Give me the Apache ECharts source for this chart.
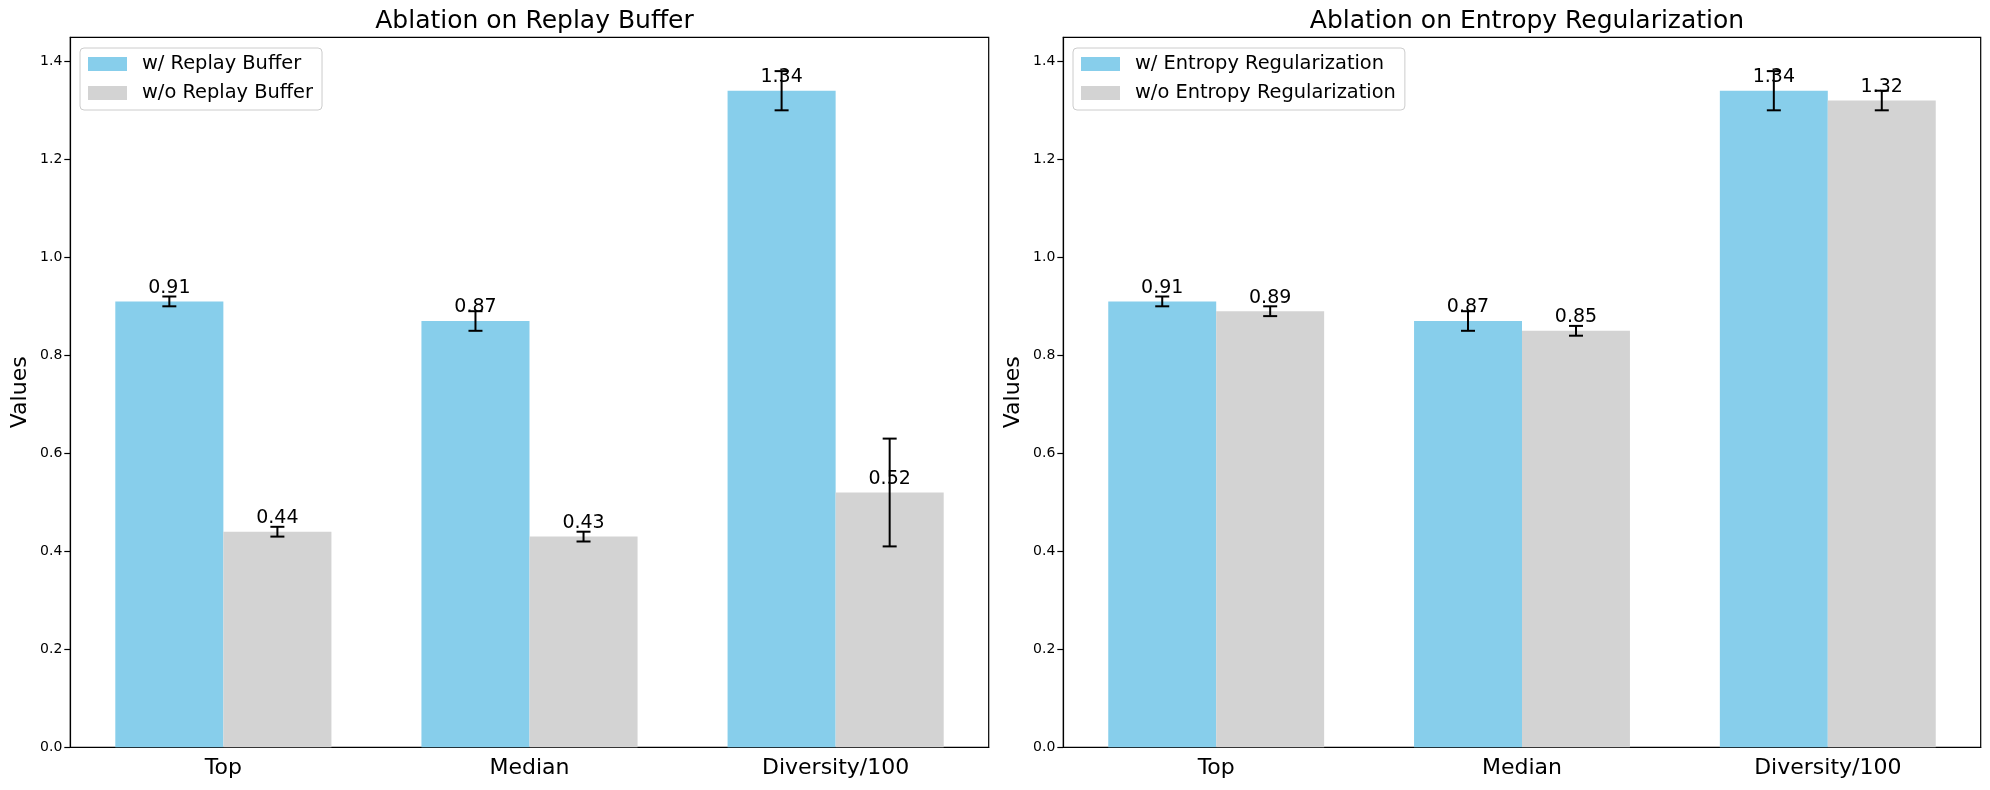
<!DOCTYPE html>
<html><head><meta charset="utf-8">
<script src="https://cdn.jsdelivr.net/npm/echarts@6/dist/echarts.min.js"></script>
<style>html,body{margin:0;padding:0;background:#fff}#c{width:1990px;height:790px}</style>
</head><body><div id="c"></div>
<script>
const categories = ['Top', 'Median', 'Diversity/100'];
const yTicks = [0, 0.2, 0.4, 0.6, 0.8, 1.0, 1.2, 1.4];
const replayWith = [0.91, 0.87, 1.34];
const replayWithErr = [0.01, 0.02, 0.04];
const replayWithout = [0.44, 0.43, 0.52];
const replayWithoutErr = [0.01, 0.01, 0.11];
const entropyWith = [0.91, 0.87, 1.34];
const entropyWithErr = [0.01, 0.02, 0.04];
const entropyWithout = [0.89, 0.85, 1.32];
const entropyWithoutErr = [0.01, 0.01, 0.02];

const FONT = 'DejaVu Sans';
const BLUE = '#87CEEB', GRAY = '#D3D3D3';
const BAR_FRAC = 0.353;

function errSeries(axisIdx, vals, errs, side) {
  return {
    type: 'custom', xAxisIndex: axisIdx, yAxisIndex: axisIdx, z: 5,
    data: vals.map((v, i) => [i, v, errs[i]]),
    renderItem: function (params, api) {
      const i = api.value(0), v = api.value(1), e = api.value(2);
      const band = api.size([1, 0])[0];
      const off = side * band * BAR_FRAC / 2;
      const hi = api.coord([i, v + e]);
      const lo = api.coord([i, v - e]);
      const x = hi[0] + off;
      const cap = 7;
      const st = { stroke: '#000', lineWidth: 2 };
      return { type: 'group', children: [
        { type: 'line', shape: { x1: x, y1: hi[1], x2: x, y2: lo[1] }, style: st },
        { type: 'line', shape: { x1: x - cap, y1: hi[1], x2: x + cap, y2: hi[1] }, style: st },
        { type: 'line', shape: { x1: x - cap, y1: lo[1], x2: x + cap, y2: lo[1] }, style: st }
      ]};
    }
  };
}

function barSeries(name, axisIdx, vals, color) {
  return {
    name: name, type: 'bar', xAxisIndex: axisIdx, yAxisIndex: axisIdx,
    data: vals, barWidth: (BAR_FRAC * 100) + '%', barGap: '0%',
    itemStyle: { color: color },
    label: { show: true, position: 'top', distance: 4, color: '#000', fontSize: 19, fontFamily: FONT,
      formatter: p => p.value.toFixed(2) },
    emphasis: { disabled: true }
  };
}

function xAxis(idx) {
  return {
    type: 'category', gridIndex: idx, data: categories,
    axisLine: { lineStyle: { color: '#000', width: 1.2 } },
    axisTick: { alignWithLabel: true, length: 6, lineStyle: { color: '#000', width: 1.2 } },
    axisLabel: { color: '#000', fontSize: 22, fontFamily: FONT, margin: 10 }
  };
}
function yAxis(idx) {
  return {
    type: 'value', gridIndex: idx, min: 0, max: 1.449,
    name: 'Values', nameLocation: 'middle', nameGap: 39, nameRotate: 90,
    nameTextStyle: { color: '#000', fontSize: 22, fontFamily: FONT },
    axisLine: { show: true, lineStyle: { color: '#000', width: 1.2 } },
    axisTick: { show: true, length: 6, customValues: yTicks, lineStyle: { color: '#000', width: 1.2 } },
    axisLabel: { color: '#000', fontSize: 14, fontFamily: FONT, margin: 8, customValues: yTicks,
      formatter: v => v.toFixed(1) },
    splitLine: { show: false }
  };
}

const legendCommon = {
  orient: 'vertical', top: 48, padding: [6, 9, 7, 8], itemGap: 9,
  itemWidth: 39, itemHeight: 14, icon: 'rect',
  borderColor: '#cccccc', borderWidth: 1, borderRadius: 4, backgroundColor: '#fff',
  textStyle: { color: '#000', fontSize: 19.4, lineHeight: 20, fontFamily: FONT, padding: [0, 0, 0, 10] }
};

const option = {
  animation: false,
  textStyle: { fontFamily: FONT },
  title: [
    { text: 'Ablation on Replay Buffer', left: 529.5, textAlign: 'center', top: 4,
      textStyle: { fontSize: 25, fontWeight: 'normal', color: '#000', fontFamily: FONT } },
    { text: 'Ablation on Entropy Regularization', left: 1522, textAlign: 'center', top: 4,
      textStyle: { fontSize: 25, fontWeight: 'normal', color: '#000', fontFamily: FONT } }
  ],
  legend: [
    Object.assign({}, legendCommon, { left: 80, data: ['w/ Replay Buffer', 'w/o Replay Buffer'] }),
    Object.assign({}, legendCommon, { left: 1073, data: ['w/ Entropy Regularization', 'w/o Entropy Regularization'] })
  ],
  grid: [
    { left: 70.3, right: 1001.3, top: 37.3, bottom: 42.7, show: true, borderColor: '#000', borderWidth: 1.2 },
    { left: 1063.3, right: 9.3, top: 37.3, bottom: 42.7, show: true, borderColor: '#000', borderWidth: 1.2 }
  ],
  xAxis: [xAxis(0), xAxis(1)],
  yAxis: [yAxis(0), yAxis(1)],
  series: [
    barSeries('w/ Replay Buffer', 0, replayWith, BLUE),
    barSeries('w/o Replay Buffer', 0, replayWithout, GRAY),
    barSeries('w/ Entropy Regularization', 1, entropyWith, BLUE),
    barSeries('w/o Entropy Regularization', 1, entropyWithout, GRAY),
    errSeries(0, replayWith, replayWithErr, -1),
    errSeries(0, replayWithout, replayWithoutErr, 1),
    errSeries(1, entropyWith, entropyWithErr, -1),
    errSeries(1, entropyWithout, entropyWithoutErr, 1)
  ]
};
const chart = echarts.init(document.getElementById('c'), null, { renderer: 'canvas' });
chart.setOption(option);
</script></body></html>
